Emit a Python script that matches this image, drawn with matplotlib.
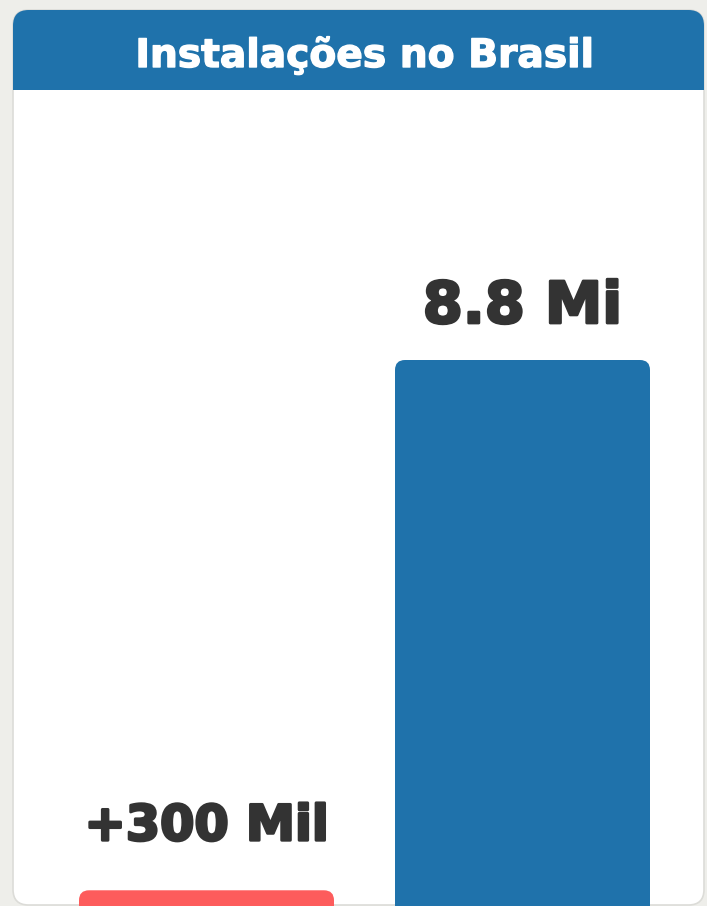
import matplotlib
matplotlib.use("Agg")
import matplotlib.pyplot as plt
from matplotlib.patches import FancyBboxPatch, Rectangle
import matplotlib.patheffects as pe

categories = ["Antes", "Agora"]
values = [0.3, 8.8]  # milhões
labels = ["+300 Mil", "8.8 Mi"]
bar_colors = ["#fd5c5c", "#1f72ab"]
title = "Instalações no Brasil"

W, H = 707, 906
fig = plt.figure(figsize=(W / 100, H / 100), dpi=100)
fig.patch.set_facecolor("#eeeeea")

FONT = ["DejaVu Sans"]

def fy(p):
    return 1 - p / H

def fx(p):
    return p / W

# card
card = FancyBboxPatch((fx(13), fy(905)), fx(704) - fx(13), fy(10) - fy(905),
                      boxstyle="round,pad=0,rounding_size=0.022", mutation_aspect=W / H,
                      transform=fig.transFigure, facecolor="white", edgecolor="#dcdcd8",
                      linewidth=1.2, zorder=0)
fig.patches.append(card)
header = FancyBboxPatch((fx(13), fy(90)), fx(704) - fx(13), fy(10) - fy(90),
                        boxstyle="round,pad=0,rounding_size=0.022", mutation_aspect=W / H,
                        transform=fig.transFigure, facecolor="#1f72ab", edgecolor="none", zorder=1)
fig.patches.append(header)
fig.patches.append(Rectangle((fx(13), fy(90)), fx(704) - fx(13), fy(50) - fy(90),
                             transform=fig.transFigure, facecolor="#1f72ab", edgecolor="none", zorder=1))
fig.text(fx(364), fy(67), title, color="white", fontsize=28.2, fontweight="bold",
         family=FONT, ha="center", va="baseline", zorder=3,
         path_effects=[pe.withStroke(linewidth=1.0, foreground="white")])

# axes: pixel rows 90..906
ax = fig.add_axes([0, 0, 1, fy(90)])
ax.set_zorder(5)
ax.set_facecolor("none")
px_per_unit = (909 - 360) / 8.8
ax.set_ylim((909 - 906) / px_per_unit, (909 - 90) / px_per_unit)
ax.set_xlim(-206.5 / 316, 1 + (707 - 522.5) / 316)
ax.axis("off")

x = list(range(len(categories)))
bars = ax.bar(x, values, width=255 / 316, color=bar_colors)
r = 10 / 316
aspect = (1 / px_per_unit) / (1 / 316)
for b, c in zip(bars, bar_colors):
    b.set_visible(False)
    p = FancyBboxPatch((b.get_x(), b.get_y() - 1), b.get_width(), b.get_height() + 1,
                       boxstyle=f"round,pad=0,rounding_size={r}", mutation_aspect=aspect,
                       facecolor=c, edgecolor="none", clip_on=True)
    ax.add_patch(p)

label_sizes = [35.5, 41.5]
label_gaps = [50, 37]  # pixels between bar top and text baseline
for xi, v, lab, fs, gap in zip(x, values, labels, label_sizes, label_gaps):
    ax.annotate(lab, (xi, v), xytext=(0, gap), textcoords="offset pixels",
                ha="center", va="baseline", fontsize=fs, fontweight="bold",
                family=FONT, color="#333333",
                path_effects=[pe.withStroke(linewidth=2.0, foreground="#333333")])

fig.savefig("out.png", dpi=100, facecolor=fig.get_facecolor())
